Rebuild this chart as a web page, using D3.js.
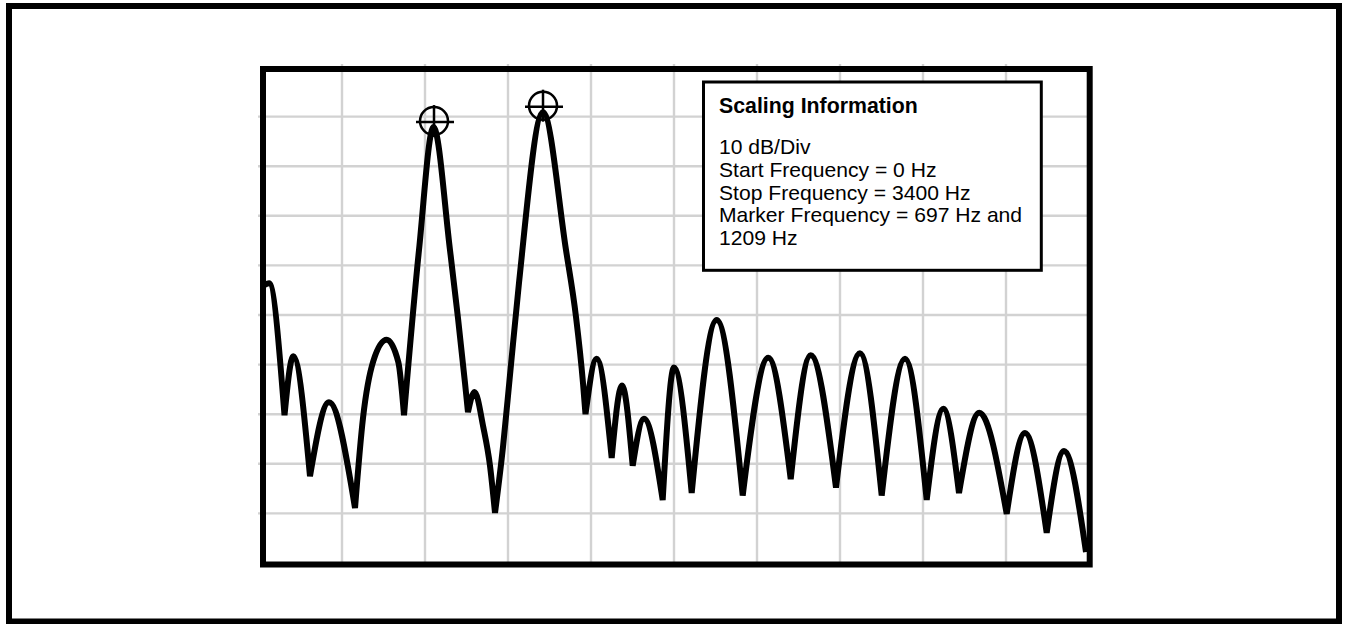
<!DOCTYPE html>
<html>
<head>
<meta charset="utf-8">
<script src="https://cdn.jsdelivr.net/npm/d3@7"></script>
<style>
  html, body { margin: 0; padding: 0; background: #fff; }
  svg { display: block; }
</style>
</head>
<body>
<svg id="chart" width="1346" height="624"></svg>
<script>
// ---- data ----
const frequencies = [0, 41, 104.5, 140.5, 208.9, 286.7, 393.3, 426, 468.2, 523.1, 570.6, 594,
  655.4, 714.8, 782.4, 843.9, 856.1, 882.8, 918.8, 946.3, 966.8, 999.5, 1028.2, 1065.1, 1163.4,
  1257.6, 1298.6, 1327.2, 1337.5, 1383.4, 1444.8, 1487.0, 1530.8, 1577.1, 1653.7, 1700.0, 1772.5,
  1874.9, 1981.4, 2086.3, 2178.1, 2260.0, 2363.6, 2461.9, 2550.8, 2646.3, 2735.2, 2803.2, 2867.5,
  2950.6, 3062.9, 3137.8, 3226.7, 3297.6, 3387.7];
const levels = [-44.8, -43.6, -70.2, -58.3, -82.5, -67.6, -88.9, -70.8, -59.3, -55.0, -59.5, -70.2,
  -36.9, -12.1, -36.9, -63.7, -69.6, -65.5, -72.6, -80.4, -89.9, -76.6, -62.1, -43.5, -9.1,
  -36.9, -50.4, -63.7, -70.0, -58.8, -78.8, -64.2, -80.4, -70.9, -87.3, -60.6, -85.9,
  -51.0, -86.4, -58.6, -83.1, -58.1, -84.8, -57.7, -86.4, -58.8, -87.3, -68.9, -85.9,
  -69.7, -90.1, -73.8, -93.9, -77.4, -97.8];
const markerFreqs = [716.9, 1163.4];
const markerLevels = [-10.9, -7.8];
const markerNames = ["697 Hz", "1209 Hz"];
const xDomain = [0, 3400];
const yDomain = [-100, 0];
const xGridTicks = [340, 680, 1020, 1360, 1700, 2040, 2380, 2720, 3060];
const yGridTicks = [-10, -20, -30, -40, -50, -60, -70, -80, -90];
const infoTitle = "Scaling Information";
const infoLines = ["10 dB/Div", "Start Frequency = 0 Hz", "Stop Frequency = 3400 Hz",
  "Marker Frequency = 697 Hz and", "1209 Hz"];

// ---- drawing ----
const svg = d3.select("#chart");
const x = d3.scaleLinear().domain(xDomain).range([259, 1089]);
const y = d3.scaleLinear().domain(yDomain).range([563, 67]);

svg.append("defs").append("clipPath").attr("id", "plotclip")
  .append("rect").attr("x", 264).attr("y", 60).attr("width", 824).attr("height", 503);

// outer border
svg.append("rect").attr("x", 9).attr("y", 6).attr("width", 1330).attr("height", 615.5)
  .attr("fill", "none").attr("stroke", "#000").attr("stroke-width", 6);

// grid
const grid = svg.append("g").attr("stroke", "#d2d2d2").attr("stroke-width", 2.4);
grid.selectAll("line.v").data(xGridTicks).join("line").attr("class", "v")
  .attr("x1", d => x(d)).attr("x2", d => x(d)).attr("y1", 64).attr("y2", 564);
grid.selectAll("line.h").data(yGridTicks).join("line").attr("class", "h")
  .attr("y1", d => y(d)).attr("y2", d => y(d)).attr("x1", 258).attr("x2", 1089);

// trace: split into lobes at nulls, each lobe smooth, joined as one path
const pts = frequencies.map((f, i) => [f, levels[i]]);
const segs = [];
let cur = [pts[0]];
for (let i = 1; i < pts.length; i++) {
  cur.push(pts[i]);
  if (i < pts.length - 1 && pts[i][1] < pts[i - 1][1] && pts[i][1] < pts[i + 1][1]) {
    segs.push(cur);
    cur = [pts[i]];
  }
}
segs.push(cur);
const line = d3.line().x(d => x(d[0])).y(d => y(d[1])).curve(d3.curveMonotoneX);
const pathD = segs.map((s, k) => {
  const p = line(s);
  return k === 0 ? p : p.replace(/^M[^A-Za-z]*/, "");
}).join("");

// markers (behind trace)
const mk = svg.append("g").attr("stroke", "#000").attr("stroke-width", 2.5).attr("fill", "none");
markerFreqs.forEach((f, i) => {
  const cx = x(f), cy = y(markerLevels[i]);
  const g = mk.append("g").attr("class", "marker").attr("data-name", markerNames[i]);
  g.append("circle").attr("cx", cx).attr("cy", cy).attr("r", 14);
  g.append("line").attr("x1", cx - 18).attr("x2", cx + 20).attr("y1", cy + 1).attr("y2", cy + 1);
  g.append("line").attr("x1", cx).attr("x2", cx).attr("y1", cy - 16).attr("y2", cy + 16);
});

svg.append("path").attr("d", pathD).attr("fill", "none").attr("stroke", "#000")
  .attr("clip-path", "url(#plotclip)")
  .attr("stroke-width", 6).attr("stroke-linejoin", "miter").attr("stroke-miterlimit", 4);

// plot frame
svg.append("rect").attr("x", 263).attr("y", 69).attr("width", 826.7).attr("height", 495.5)
  .attr("fill", "none").attr("stroke", "#000").attr("stroke-width", 6);

// info box
const box = svg.append("g");
box.append("rect").attr("x", 703.5).attr("y", 82).attr("width", 337.8).attr("height", 188.3)
  .attr("fill", "#fff").attr("stroke", "#000").attr("stroke-width", 3);
box.append("text").attr("x", 719).attr("y", 112.5)
  .attr("font-family", "'Liberation Sans', Arial, sans-serif").attr("font-weight", "bold")
  .attr("font-size", 21.3).attr("fill", "#000").text(infoTitle);
box.selectAll("text.l").data(infoLines).join("text").attr("class", "l")
  .attr("x", 719).attr("y", (d, i) => 154 + i * 22.8)
  .attr("font-family", "'Liberation Sans', Arial, sans-serif")
  .attr("font-size", 21.1).attr("fill", "#000").text(d => d);
</script>
</body>
</html>
